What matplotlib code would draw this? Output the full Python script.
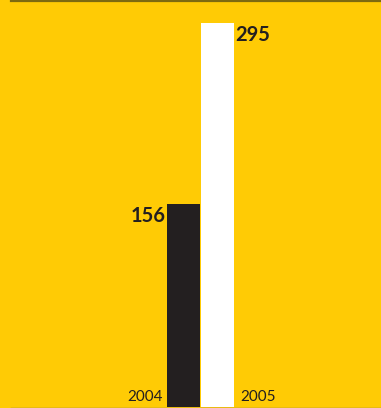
import matplotlib.pyplot as plt
from matplotlib.lines import Line2D

years = ["2004", "2005"]
values = [156, 295]
bar_colors = ["#231f20", "#ffffff"]

bg = "#ffcb05"
W, H = 381, 408

fig = plt.figure(figsize=(W / 100, H / 100), dpi=100, facecolor=bg)
ax = fig.add_axes([0, 0, 1, 1])
ax.set_facecolor(bg)

x = [0, 1]
ax.bar(x, values, width=0.97, color=bar_colors, linewidth=0)

# pixel mapping: 34 px per bar slot, first bar centre at 183.5 px
px_per_unit = 34.0
xmin = -183.5 / px_per_unit
ax.set_xlim(xmin, xmin + W / px_per_unit)
py = 384 / 295
ax.set_ylim(-1 / py, (H - 1) / py)
ax.axis("off")

font = "Lato"
# value labels
ax.text(x[0] - 0.53, values[0] - 1.5, str(values[0]), ha="right", va="top",
        fontsize=14.5, fontweight="bold", color="#231f20", family=font)
ax.text(x[1] + 0.53, values[1] - 1.5, str(values[1]), ha="left", va="top",
        fontsize=14.5, fontweight="bold", color="#231f20", family=font)
# year labels
ax.text(x[0] - 0.6, 2.5, years[0], ha="right", va="bottom",
        fontsize=11, color="#231f20", family=font)
ax.text(x[1] + 0.66, 2.5, years[1], ha="left", va="bottom",
        fontsize=11, color="#231f20", family=font)

# top and bottom rules
fig.add_artist(Line2D([11 / W, 1], [1 - 1 / H, 1 - 1 / H], color="#7d6a10",
                      linewidth=1.6, transform=fig.transFigure))
fig.add_artist(Line2D([11 / W, 1], [0.5 / H, 0.5 / H], color="#8a7a4a",
                      linewidth=1.0, transform=fig.transFigure))

plt.savefig("out.png", dpi=100, facecolor=bg)
